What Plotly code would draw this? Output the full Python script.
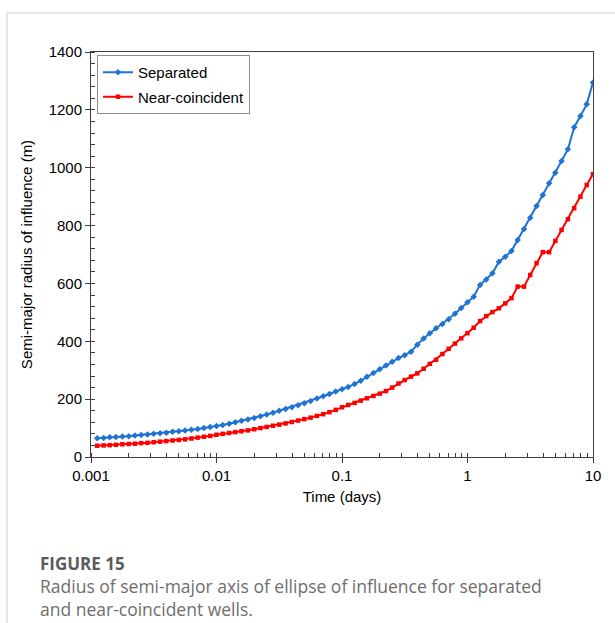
import plotly.graph_objects as go

# ---------------- data ----------------
time_days = [
    0.00112, 0.00126, 0.00141, 0.00158, 0.00178, 0.00200, 0.00224, 0.00251, 0.00282, 0.00316,
    0.00355, 0.00398, 0.00447, 0.00501, 0.00562, 0.00631, 0.00708, 0.00794, 0.00891, 0.0100,
    0.0112, 0.0126, 0.0141, 0.0158, 0.0178, 0.0200, 0.0224, 0.0251, 0.0282, 0.0316,
    0.0355, 0.0398, 0.0447, 0.0501, 0.0562, 0.0631, 0.0708, 0.0794, 0.0891, 0.100,
    0.112, 0.126, 0.141, 0.158, 0.178, 0.200, 0.224, 0.251, 0.282, 0.316,
    0.355, 0.398, 0.447, 0.501, 0.562, 0.631, 0.708, 0.794, 0.891, 1.00,
    1.12, 1.26, 1.41, 1.58, 1.78, 2.00, 2.24, 2.51, 2.82, 3.16,
    3.55, 3.98, 4.47, 5.01, 5.62, 6.31, 7.08, 7.94, 8.91, 10.0,
]

separated = [
    65, 66, 68, 69, 71, 72, 74, 76, 78, 80, 82, 84, 87, 89, 92, 94, 97, 100, 104, 107,
    111, 115, 120, 125, 130, 135, 141, 147, 153, 160, 166, 172, 179, 186, 194, 202, 210, 218, 226, 234,
    242, 252, 264, 277, 290, 303, 316, 329, 342, 352, 364, 388, 410, 428, 445, 460, 476, 495, 515, 535,
    554, 595, 614, 635, 675, 692, 712, 750, 788, 827, 868, 906, 946, 983, 1023, 1064, 1140, 1179, 1219, 1295,
]

near_coincident = [
    39, 40, 41, 42, 44, 45, 46, 48, 49, 51, 53, 55, 57, 59, 61, 64, 67, 70, 73, 77,
    80, 83, 86, 89, 92, 96, 100, 104, 108, 112, 116, 121, 126, 131, 136, 142, 148, 155, 163, 172,
    180, 187, 195, 203, 211, 219, 228, 240, 254, 266, 278, 289, 305, 322, 336, 356, 374, 392, 410, 428,
    447, 470, 487, 501, 514, 531, 549, 589, 589, 629, 670, 708, 708, 747, 785, 822, 860, 900, 940, 978,
]

series_names = ["Separated", "Near-coincident"]
x_tick_vals = [0.001, 0.01, 0.1, 1, 10]
x_tick_text = ["0.001", "0.01", "0.1", "1", "10"]
y_tick_vals = [0, 200, 400, 600, 800, 1000, 1200, 1400]

x_title = "Time (days)"
y_title = "Semi-major radius of influence (m)"
caption_head = "FIGURE 15"
caption_lines = [
    "Radius of semi-major axis of ellipse of influence for separated",
    "and near-coincident wells.",
]

# ---------------- layout constants (pixels) ----------------
W, H = 615, 623
L, R, T, B = 91, 593, 52, 457  # plot area edges


def xp(px):
    return (px - L) / (R - L)


def yp(py):
    return (B - py) / (B - T)


FONT = "Liberation Sans, Arial, sans-serif"
BLUE = "#1F73D2"
RED = "#FF0000"
AXIS = "#404040"

fig = go.Figure()
fig.add_trace(go.Scatter(
    x=time_days, y=separated, name=series_names[0], mode="lines+markers",
    line=dict(color=BLUE, width=2), marker=dict(symbol="diamond", size=5, color=BLUE),
    legendgroup="a",
))
fig.add_trace(go.Scatter(
    x=time_days, y=near_coincident, name=series_names[1], mode="lines+markers",
    line=dict(color=RED, width=2), marker=dict(symbol="square", size=4.5, color=RED),
    legendgroup="b",
))

fig.update_layout(
    width=W, height=H,
    margin=dict(l=L, r=W - R, t=T, b=H - B, autoexpand=False),
    paper_bgcolor="white", plot_bgcolor="white",
    font=dict(family=FONT, size=15, color="black"),
    showlegend=True,
    legend=dict(
        x=xp(97), y=yp(55), xanchor="left", yanchor="top",
        bordercolor="#8c8c8c", borderwidth=1, bgcolor="white",
        font=dict(family=FONT, size=15, color="black"),
        tracegroupgap=2, itemwidth=30,
    ),
    xaxis=dict(
        type="log", range=[-3, 1],
        tickvals=x_tick_vals, ticktext=x_tick_text,
        ticks="outside", ticklen=5, tickcolor=AXIS,
        showline=True, linecolor=AXIS, linewidth=1, mirror=True,
        showgrid=False, zeroline=False,
        minor=dict(ticks="inside", ticklen=4, tickcolor=AXIS, dtick="D1", showgrid=False),
        title=dict(text=x_title, standoff=8, font=dict(size=15)),
        automargin=False,
    ),
    yaxis=dict(
        range=[0, 1400], tickvals=y_tick_vals,
        ticks="outside", ticklen=5, tickcolor=AXIS,
        showline=True, linecolor=AXIS, linewidth=1, mirror=True,
        showgrid=False, zeroline=False,
        minor=dict(ticks="inside", ticklen=4, tickcolor=AXIS, dtick=40, showgrid=False),
        title=dict(text=y_title, standoff=12, font=dict(size=15)),
        automargin=False,
    ),
)

# card border (thin grey lines at top and left)
fig.add_shape(type="line", xref="paper", yref="paper",
              x0=xp(7), x1=xp(W + 5), y0=yp(13), y1=yp(13),
              line=dict(color="#cfcfcf", width=1))
fig.add_shape(type="line", xref="paper", yref="paper",
              x0=xp(7), x1=xp(7), y0=yp(13), y1=yp(H + 5),
              line=dict(color="#cfcfcf", width=1))

CAP_FONT = "Open Sans, Lato, sans-serif"
caption_text = (
    "<span style='color:#5a5a5a;font-size:17px'><b>" + caption_head + "</b></span><br>"
    + "<br>".join(caption_lines)
)
fig.add_annotation(
    text=caption_text, xref="paper", yref="paper",
    x=xp(39), y=yp(622), xanchor="left", yanchor="bottom", align="left", showarrow=False,
    borderpad=0, font=dict(family=CAP_FONT, size=17.5, color="#6e6e6e"),
)

fig.write_html("out.html")
